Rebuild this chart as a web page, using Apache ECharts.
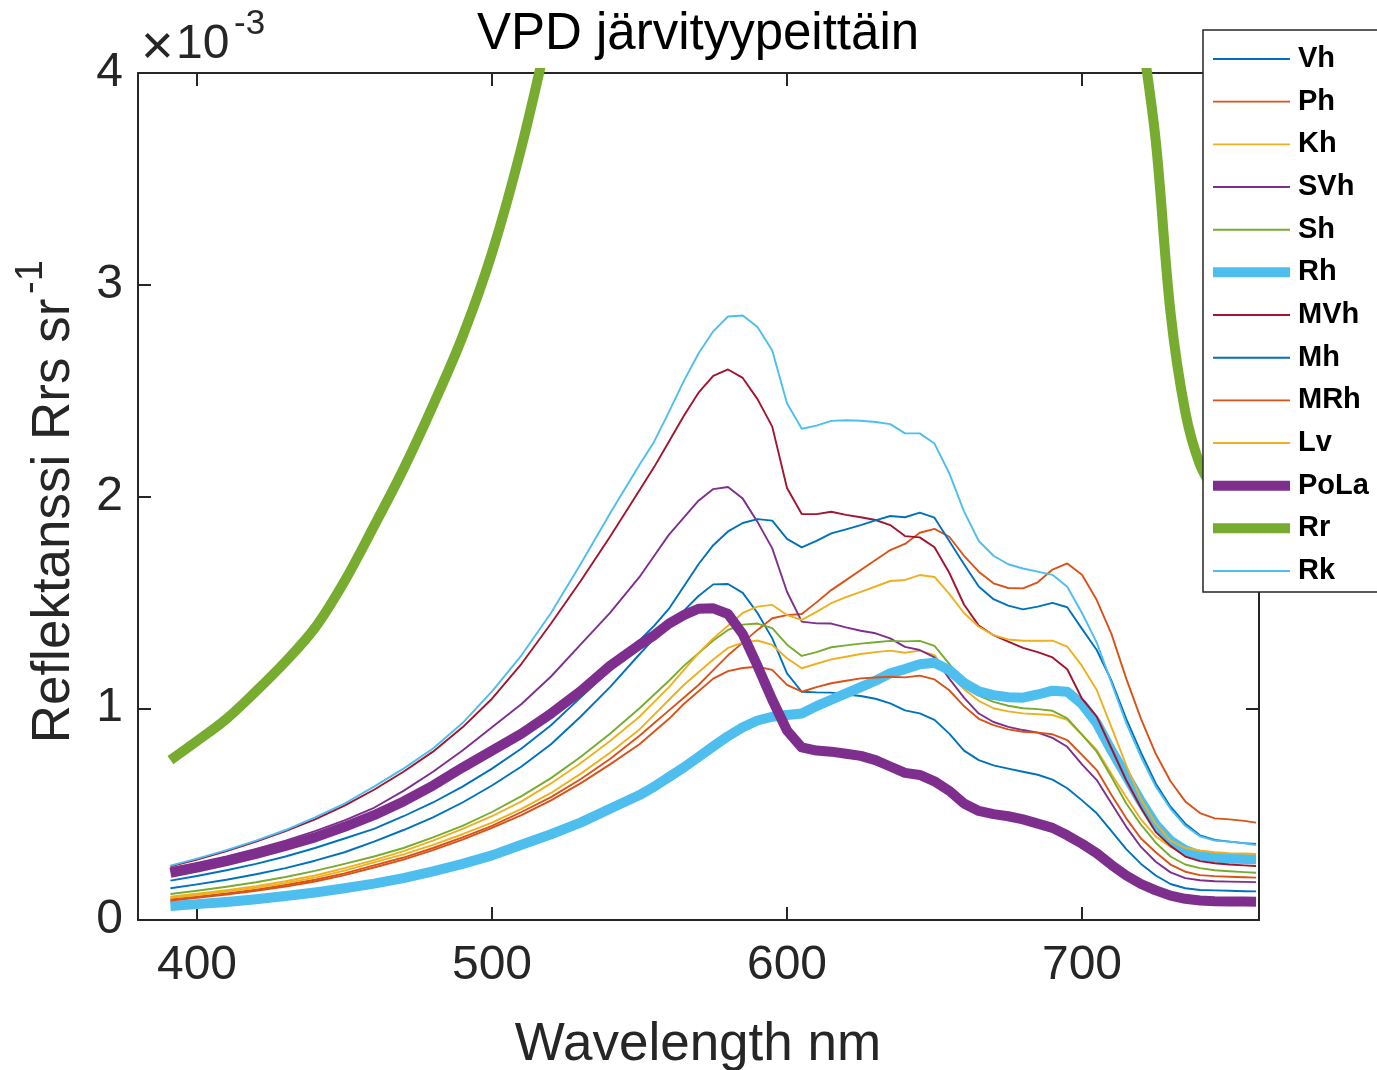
<!DOCTYPE html>
<html><head><meta charset="utf-8">
<script src="https://cdn.jsdelivr.net/npm/echarts@6/dist/echarts.min.js"></script>
<style>html,body{margin:0;padding:0;background:#fff}#c{width:1377px;height:1070px}</style>
</head><body><div id="c"></div><script>
// Wavelength grid (nm)
const wavelengths = [391,400,410,420,430,440,450,460,470,480,490,500,510,520,530,540,550,
  555,560,565,570,575,580,585,590,595,600,605,610,615,620,625,630,635,640,645,650,655,660,
  665,670,675,680,685,690,695,700,705,710,715,720,725,730,735,740,745,750,755,759];
const xTicks = [400, 500, 600, 700];
const yTicks = [0, 1, 2, 3, 4];
const seriesNames = ['Vh','Ph','Kh','SVh','Sh','Rh','MVh','Mh','MRh','Lv','PoLa','Rr','Rk'];

// Reflectance values, units of 1e-3 sr^-1
const Vh = [0.150,0.168,0.190,0.216,0.245,0.280,0.320,0.370,0.425,0.485,0.555,0.635,0.725,0.830,0.960,1.100,1.255,
  1.330,1.390,1.460,1.530,1.585,1.587,1.545,1.450,1.330,1.165,1.078,1.075,1.074,1.065,1.058,1.045,1.023,0.990,0.976,0.945,0.880,0.800,
  0.755,0.730,0.715,0.700,0.686,0.663,0.622,0.565,0.504,0.420,0.335,0.265,0.210,0.170,0.150,0.142,0.140,0.138,0.136,0.135];
const Ph = [0.097,0.110,0.125,0.143,0.165,0.190,0.220,0.258,0.295,0.340,0.390,0.445,0.510,0.580,0.665,0.760,0.870,
  0.930,0.990,1.050,1.110,1.180,1.250,1.310,1.370,1.425,1.440,1.445,1.500,1.558,1.605,1.653,1.700,1.747,1.776,1.829,1.847,1.810,1.720,
  1.645,1.590,1.568,1.566,1.595,1.655,1.684,1.630,1.511,1.350,1.140,0.950,0.785,0.655,0.560,0.505,0.480,0.475,0.468,0.460];
const Kh = [0.105,0.118,0.134,0.152,0.174,0.200,0.233,0.272,0.310,0.355,0.405,0.460,0.525,0.600,0.690,0.790,0.900,
  0.970,1.040,1.110,1.170,1.230,1.285,1.310,1.320,1.299,1.236,1.189,1.210,1.231,1.243,1.256,1.265,1.272,1.262,1.272,1.251,1.160,1.090,
  1.035,1.000,0.985,0.976,0.972,0.968,0.945,0.875,0.803,0.690,0.580,0.475,0.395,0.345,0.312,0.298,0.290,0.287,0.286,0.285];
const SVh = [0.245,0.270,0.300,0.336,0.375,0.420,0.470,0.530,0.610,0.700,0.800,0.910,1.020,1.150,1.300,1.450,1.620,
  1.720,1.820,1.900,1.980,2.035,2.045,1.990,1.880,1.755,1.550,1.409,1.401,1.400,1.382,1.366,1.354,1.330,1.290,1.275,1.240,1.140,1.050,
  0.975,0.935,0.912,0.897,0.885,0.860,0.818,0.735,0.661,0.550,0.440,0.345,0.275,0.225,0.198,0.188,0.183,0.181,0.180,0.179];
const Sh = [0.123,0.138,0.157,0.178,0.203,0.232,0.265,0.300,0.340,0.390,0.445,0.510,0.585,0.670,0.770,0.880,1.000,
  1.065,1.130,1.200,1.260,1.320,1.370,1.395,1.400,1.378,1.300,1.247,1.265,1.288,1.297,1.305,1.312,1.318,1.316,1.318,1.295,1.210,1.120,
  1.060,1.030,1.012,1.000,0.996,0.988,0.952,0.875,0.795,0.675,0.550,0.450,0.365,0.300,0.262,0.245,0.235,0.230,0.226,0.223];
const Rh = [0.066,0.075,0.085,0.098,0.113,0.130,0.150,0.172,0.198,0.230,0.265,0.305,0.355,0.405,0.460,0.525,0.590,
  0.630,0.675,0.720,0.770,0.820,0.868,0.910,0.942,0.960,0.968,0.975,1.010,1.040,1.070,1.100,1.130,1.165,1.185,1.208,1.215,1.180,1.120,
  1.080,1.062,1.052,1.050,1.065,1.083,1.078,1.020,0.930,0.800,0.680,0.560,0.450,0.375,0.330,0.305,0.295,0.290,0.288,0.287];
const MVh = [0.254,0.285,0.325,0.370,0.420,0.475,0.540,0.615,0.700,0.795,0.910,1.045,1.210,1.400,1.600,1.810,2.030,
  2.140,2.260,2.380,2.490,2.570,2.600,2.560,2.460,2.330,2.040,1.917,1.917,1.928,1.913,1.902,1.889,1.865,1.813,1.807,1.760,1.640,1.490,
  1.390,1.345,1.315,1.285,1.265,1.240,1.184,1.045,0.960,0.810,0.660,0.530,0.415,0.350,0.300,0.278,0.268,0.262,0.258,0.255];
const Mh = [0.186,0.208,0.235,0.265,0.300,0.340,0.385,0.430,0.490,0.555,0.630,0.715,0.810,0.920,1.050,1.180,1.320,
  1.390,1.470,1.575,1.680,1.770,1.835,1.875,1.893,1.886,1.800,1.760,1.790,1.826,1.845,1.865,1.887,1.908,1.902,1.924,1.900,1.790,1.680,
  1.575,1.515,1.485,1.467,1.480,1.498,1.477,1.375,1.275,1.130,0.950,0.790,0.645,0.535,0.455,0.400,0.378,0.370,0.363,0.359];
const MRh = [0.092,0.105,0.120,0.138,0.158,0.182,0.212,0.248,0.285,0.330,0.380,0.435,0.495,0.565,0.645,0.735,0.830,
  0.890,0.950,1.020,1.080,1.140,1.175,1.190,1.196,1.181,1.110,1.078,1.100,1.118,1.130,1.141,1.145,1.149,1.146,1.154,1.136,1.085,1.010,
  0.950,0.920,0.900,0.889,0.885,0.877,0.850,0.780,0.708,0.590,0.480,0.385,0.320,0.262,0.228,0.212,0.207,0.204,0.202,0.200];
const Lv = [0.110,0.124,0.141,0.160,0.183,0.210,0.245,0.283,0.325,0.375,0.430,0.490,0.560,0.645,0.740,0.845,0.960,
  1.030,1.100,1.180,1.260,1.330,1.390,1.450,1.480,1.488,1.440,1.417,1.455,1.496,1.525,1.550,1.575,1.601,1.606,1.629,1.620,1.540,1.450,
  1.385,1.345,1.325,1.319,1.319,1.319,1.291,1.200,1.086,0.910,0.730,0.570,0.455,0.375,0.340,0.328,0.320,0.316,0.314,0.312];
const PoLa = [0.223,0.247,0.278,0.312,0.350,0.390,0.440,0.495,0.560,0.635,0.720,0.800,0.880,0.975,1.080,1.200,1.300,
  1.345,1.400,1.440,1.470,1.472,1.445,1.350,1.200,1.040,0.895,0.815,0.800,0.795,0.785,0.775,0.755,0.725,0.695,0.685,0.655,0.610,0.550,
  0.515,0.500,0.490,0.475,0.455,0.435,0.400,0.360,0.315,0.260,0.210,0.170,0.140,0.115,0.100,0.092,0.088,0.087,0.087,0.086];
const Rr = [0.755,0.845,0.950,1.080,1.220,1.380,1.600,1.860,2.130,2.430,2.755,3.150,3.650,4.250,null,null,null,
  null,null,null,null,null,null,null,null,null,null,null,null,null,null,null,null,null,null,null,null,null,null,
  null,null,null,null,null,null,null,null,null,null,4.750,4.210,3.680,2.870,2.400,2.150,2.030,1.960,1.920,1.900];
const Rk = [0.257,0.290,0.330,0.375,0.425,0.485,0.550,0.630,0.715,0.810,0.930,1.080,1.250,1.450,1.680,1.920,2.150,
  2.260,2.400,2.545,2.675,2.780,2.850,2.855,2.800,2.690,2.440,2.320,2.335,2.357,2.360,2.358,2.352,2.342,2.298,2.298,2.250,2.110,1.930,
  1.790,1.720,1.680,1.660,1.645,1.630,1.574,1.450,1.310,1.120,0.930,0.770,0.630,0.525,0.445,0.395,0.375,0.370,0.362,0.354];

const seriesValues = [Vh,Ph,Kh,SVh,Sh,Rh,MVh,Mh,MRh,Lv,PoLa,Rr,Rk];
const seriesColors = ['#0072BD','#D95319','#EDB120','#7E2F8E','#77AC30','#4DBEEE','#A2142F','#0072BD','#D95319','#EDB120','#7E2F8E','#77AC30','#4DBEEE'];
const thickSeries = ['Rh','PoLa','Rr'];
const smoothSeries = ['Rr'];

const FONT = '"Liberation Sans", Arial, Helvetica, sans-serif';
const AX = '#262626';

const chart = echarts.init(document.getElementById('c'));

const series = seriesNames.map((name, i) => ({
  name: name,
  type: 'line',
  symbol: 'none',
  showSymbol: false,
  clip: true,
  connectNulls: false,
  smooth: smoothSeries.includes(name) ? 0.35 : false,
  data: wavelengths.map((w, j) => [w, seriesValues[i][j]]),
  lineStyle: { color: seriesColors[i], width: thickSeries.includes(name) ? 10 : 1.9, join: 'round', cap: 'butt' },
  itemStyle: { color: seriesColors[i] },
  emphasis: { disabled: true }
}));

const axisBase = {
  type: 'value',
  axisLine: { show: true, onZero: false, lineStyle: { color: AX, width: 2 } },
  axisTick: { show: true, inside: true, length: 13, lineStyle: { color: AX, width: 2 } },
  splitLine: { show: false }
};

chart.setOption({
  animation: false,
  backgroundColor: '#fff',
  grid: { left: 138, right: 118, top: 73, bottom: 150, containLabel: false },
  xAxis: [
    Object.assign({}, axisBase, {
      min: 380, max: 760, position: 'bottom',
      axisTick: Object.assign({}, axisBase.axisTick, { customValues: xTicks }),
      axisLabel: { customValues: xTicks, fontSize: 48, fontFamily: FONT, color: AX, margin: 22 }
    }),
    Object.assign({}, axisBase, {
      min: 380, max: 760, position: 'top',
      axisTick: Object.assign({}, axisBase.axisTick, { customValues: xTicks }),
      axisLabel: { show: false }
    })
  ],
  yAxis: [
    Object.assign({}, axisBase, {
      min: 0, max: 4, interval: 1, position: 'left',
      axisLabel: { fontSize: 48, fontFamily: FONT, color: AX, margin: 15 }
    }),
    Object.assign({}, axisBase, {
      min: 0, max: 4, interval: 1, position: 'right',
      axisLabel: { show: false }
    })
  ],
  legend: {
    data: seriesNames,
    orient: 'vertical',
    left: 1203, top: 30,
    padding: [14, 30, 6, 5],
    itemGap: 12.67,
    itemWidth: 77, itemHeight: 14,
    backgroundColor: '#fff',
    borderColor: AX, borderWidth: 1.5, borderRadius: 0,
    selectedMode: false,
    z: 10,
    lineStyle: { width: 'inherit' },
    itemStyle: { opacity: 0 },
    textStyle: { fontSize: 29, fontWeight: 'bold', fontFamily: FONT, color: '#000', lineHeight: 30, padding: [0, 0, 0, 3] }
  },
  series: series,
  graphic: [
    { type: 'text', x: 698, y: 35, z: 20,
      style: { text: 'VPD järvityypeittäin', font: '51px ' + FONT, fill: '#000', align: 'center', verticalAlign: 'middle' } },
    { type: 'text', x: 698, y: 1045, z: 20,
      style: { text: 'Wavelength nm', font: '53px ' + FONT, fill: AX, align: 'center', verticalAlign: 'middle' } },
    { type: 'text', x: 54, y: 521, rotation: Math.PI / 2, z: 20,
      style: { text: 'Reflektanssi Rrs sr', font: '53px ' + FONT, fill: AX, align: 'center', verticalAlign: 'middle' } },
    { type: 'text', x: 32, y: 277, rotation: Math.PI / 2, z: 20,
      style: { text: '-1', font: '38px ' + FONT, fill: AX, align: 'center', verticalAlign: 'middle' } },
    { type: 'text', x: 141, y: 49, z: 20,
      style: { text: '×', font: '56px ' + FONT, fill: AX, align: 'left', verticalAlign: 'middle' } },
    { type: 'text', x: 176, y: 45, z: 20,
      style: { text: '10', font: '48px ' + FONT, fill: AX, align: 'left', verticalAlign: 'middle' } },
    { type: 'text', x: 234, y: 24, z: 20,
      style: { text: '-3', font: '35px ' + FONT, fill: AX, align: 'left', verticalAlign: 'middle' } }
  ]
});
</script></body></html>
